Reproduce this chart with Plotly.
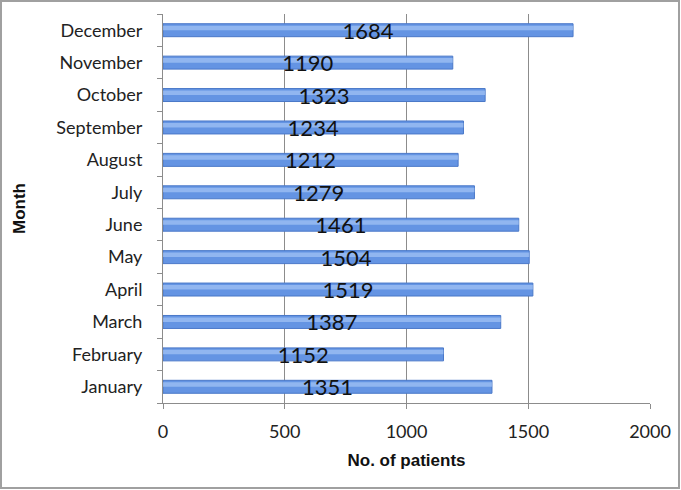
import plotly.graph_objects as go

months = ["January", "February", "March", "April", "May", "June",
          "July", "August", "September", "October", "November", "December"]
patients = [1351, 1152, 1387, 1519, 1504, 1461, 1279, 1212, 1234, 1323, 1190, 1684]
x_ticks = [0, 500, 1000, 1500, 2000]

W, H = 681, 490
L, R, T, B = 163, 31, 14, 87
pw, ph = W - L - R, H - T - B

fig = go.Figure()

fig.add_trace(go.Bar(
    y=months,
    x=patients,
    orientation="h",
    width=0.4,
    marker=dict(color="#6494e3", line=dict(color="#4a78c8", width=1)),
    showlegend=False,
))

# light highlight stripe on the upper half to mimic the gradient
fig.add_trace(go.Bar(
    y=months,
    x=patients,
    orientation="h",
    width=0.14,
    offset=0.0,
    marker=dict(color="rgba(175,205,248,0.6)", line=dict(width=0)),
    hoverinfo="skip",
    showlegend=False,
))

# value labels centred on each bar
fig.add_trace(go.Bar(
    y=months,
    x=patients,
    orientation="h",
    width=0.4,
    marker=dict(color="rgba(0,0,0,0)", line=dict(width=0)),
    text=[str(v) for v in patients],
    textposition="inside",
    insidetextanchor="middle",
    textangle=0,
    constraintext="none",
    textfont=dict(family="Lato", size=22, color="#111111"),
    cliponaxis=False,
    hoverinfo="skip",
    showlegend=False,
))

fig.update_layout(
    width=W, height=H,
    margin=dict(l=L, r=R, t=T, b=B, autoexpand=False),
    barmode="overlay",
    plot_bgcolor="white",
    paper_bgcolor="white",
    font=dict(family="Lato", color="#222222"),
    xaxis=dict(
        range=[0, 2000],
        tickvals=x_ticks,
        showgrid=True, gridcolor="#8c8c8c", gridwidth=1,
        showline=True, linecolor="#8c8c8c",
        ticks="outside", ticklen=5, tickcolor="#8c8c8c",
        ticklabelstandoff=7,
        tickfont=dict(size=18, color="#222222"),
        title=dict(text="<b>No. of patients</b>", standoff=13,
                   font=dict(family="Liberation Sans", size=17, color="#111111")),
        zeroline=False,
        automargin=False,
    ),
    yaxis=dict(
        categoryorder="array", categoryarray=months,
        showline=True, linecolor="#8c8c8c",
        ticks="outside", ticklen=5, tickcolor="#8c8c8c",
        tickson="boundaries",
        ticklabelstandoff=16,
        tickfont=dict(size=18, color="#222222"),
        title=dict(text="<b>Month</b>", standoff=26,
                   font=dict(family="Liberation Sans", size=17, color="#111111")),
        showgrid=False,
        automargin=False,
    ),
    shapes=[dict(
        type="rect", xref="paper", yref="paper",
        x0=(1 - L) / pw, x1=(W - 2 - L) / pw,
        y0=-(B - 2) / ph, y1=(ph + T - 1) / ph,
        line=dict(color="#a0a0a0", width=2),
    )],
)

fig.write_html("out.html", config={"displayModeBar": False},
               post_script="document.body.style.margin='0';")
